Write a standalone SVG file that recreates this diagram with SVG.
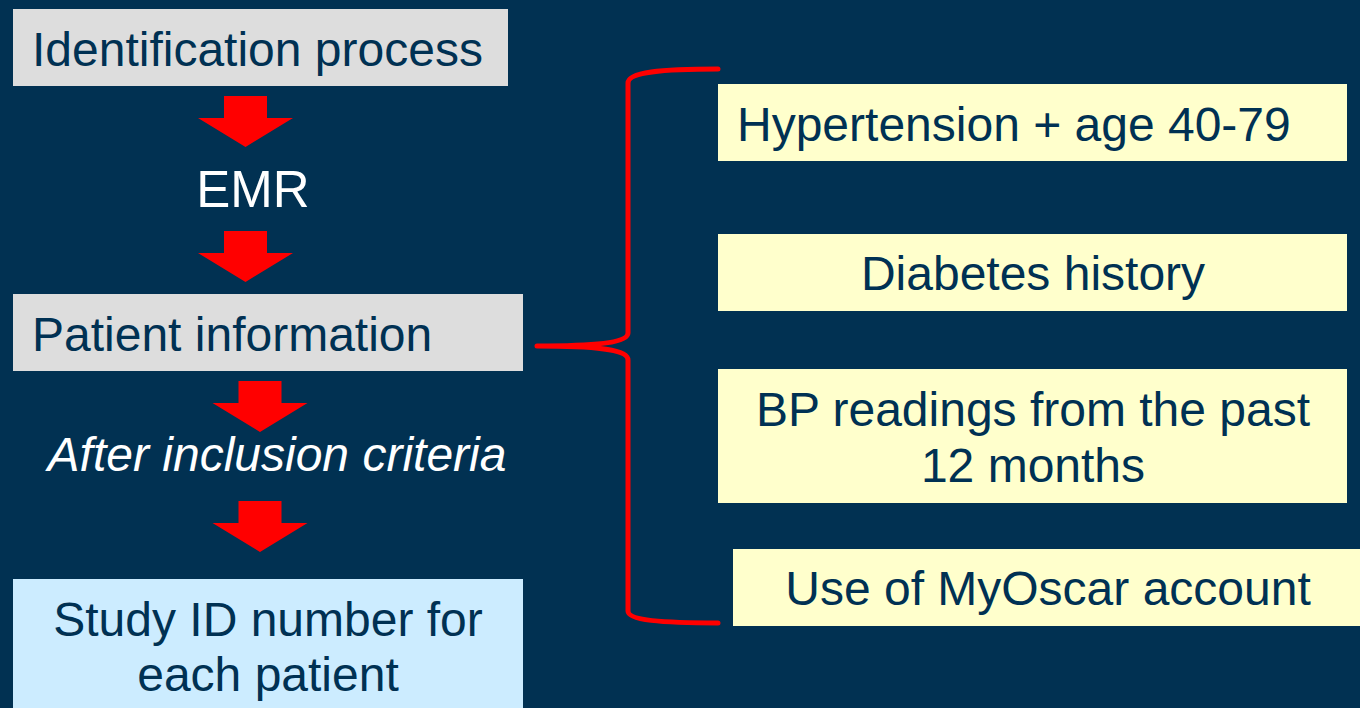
<svg xmlns="http://www.w3.org/2000/svg" width="1360" height="708" viewBox="0 0 1360 708">
<style>
.t{font-family:"Liberation Sans",Arial,sans-serif;font-size:48px;fill:#003153}
.w{font-family:"Liberation Sans",Arial,sans-serif;font-size:48px;fill:#ffffff}
.big{font-size:51px}
.gray{fill:#dddddd}
.yel{fill:#ffffcc}
.blue{fill:#ccecff}
.arr{fill:#ff0000}
.brace{fill:none;stroke:#ff0000;stroke-width:5;stroke-linecap:round;stroke-linejoin:round}
</style>
<defs>
<path id="down" d="M-21.5,0 H21.5 V22 H47.5 L0,51 L-47.5,22 H-21.5 Z"/>
</defs>
<rect width="1360" height="708" fill="#013152"/>
<g id="connectors">
<use href="#down" class="arr" x="245.5" y="96"/>
<use href="#down" class="arr" x="245.5" y="231"/>
<use href="#down" class="arr" x="260" y="381"/>
<use href="#down" class="arr" x="260" y="501"/>
<path class="brace" d="M718,69 C660,69 628,72 628,83 L628,333 C628,342 600,346 537,346 C600,346 628,350 628,360 L628,611 C628,620 660,623 718,623"/>
</g>
<g id="identification">
<rect class="gray" x="13" y="9" width="495" height="77"/>
<text class="t" x="32" y="66">Identification process</text>
</g>
<g id="emr">
<text class="w big" x="253" y="207" text-anchor="middle">EMR</text>
</g>
<g id="patient-info">
<rect class="gray" x="13" y="294" width="510" height="77"/>
<text class="t" x="32" y="351">Patient information</text>
</g>
<g id="after-inclusion">
<text class="w" x="277" y="471" text-anchor="middle" font-style="italic">After inclusion criteria</text>
</g>
<g id="study-id">
<rect class="blue" x="13" y="579" width="510" height="129"/>
<text class="t" x="268" y="636" text-anchor="middle">Study ID number for</text>
<text class="t" x="268" y="691" text-anchor="middle">each patient</text>
</g>
<g id="hypertension">
<rect class="yel" x="718" y="84" width="629" height="77"/>
<text class="t" x="737" y="141">Hypertension + age 40-79</text>
</g>
<g id="diabetes">
<rect class="yel" x="718" y="234" width="629" height="77"/>
<text class="t" x="1033" y="290" text-anchor="middle">Diabetes history</text>
</g>
<g id="bp-readings">
<rect class="yel" x="718" y="369" width="629" height="134"/>
<text class="t" x="1033" y="426" text-anchor="middle">BP readings from the past</text>
<text class="t" x="1033" y="482" text-anchor="middle">12 months</text>
</g>
<g id="myoscar">
<rect class="yel" x="733" y="549" width="627" height="77"/>
<text class="t" x="1048" y="605" text-anchor="middle">Use of MyOscar account</text>
</g>
</svg>
